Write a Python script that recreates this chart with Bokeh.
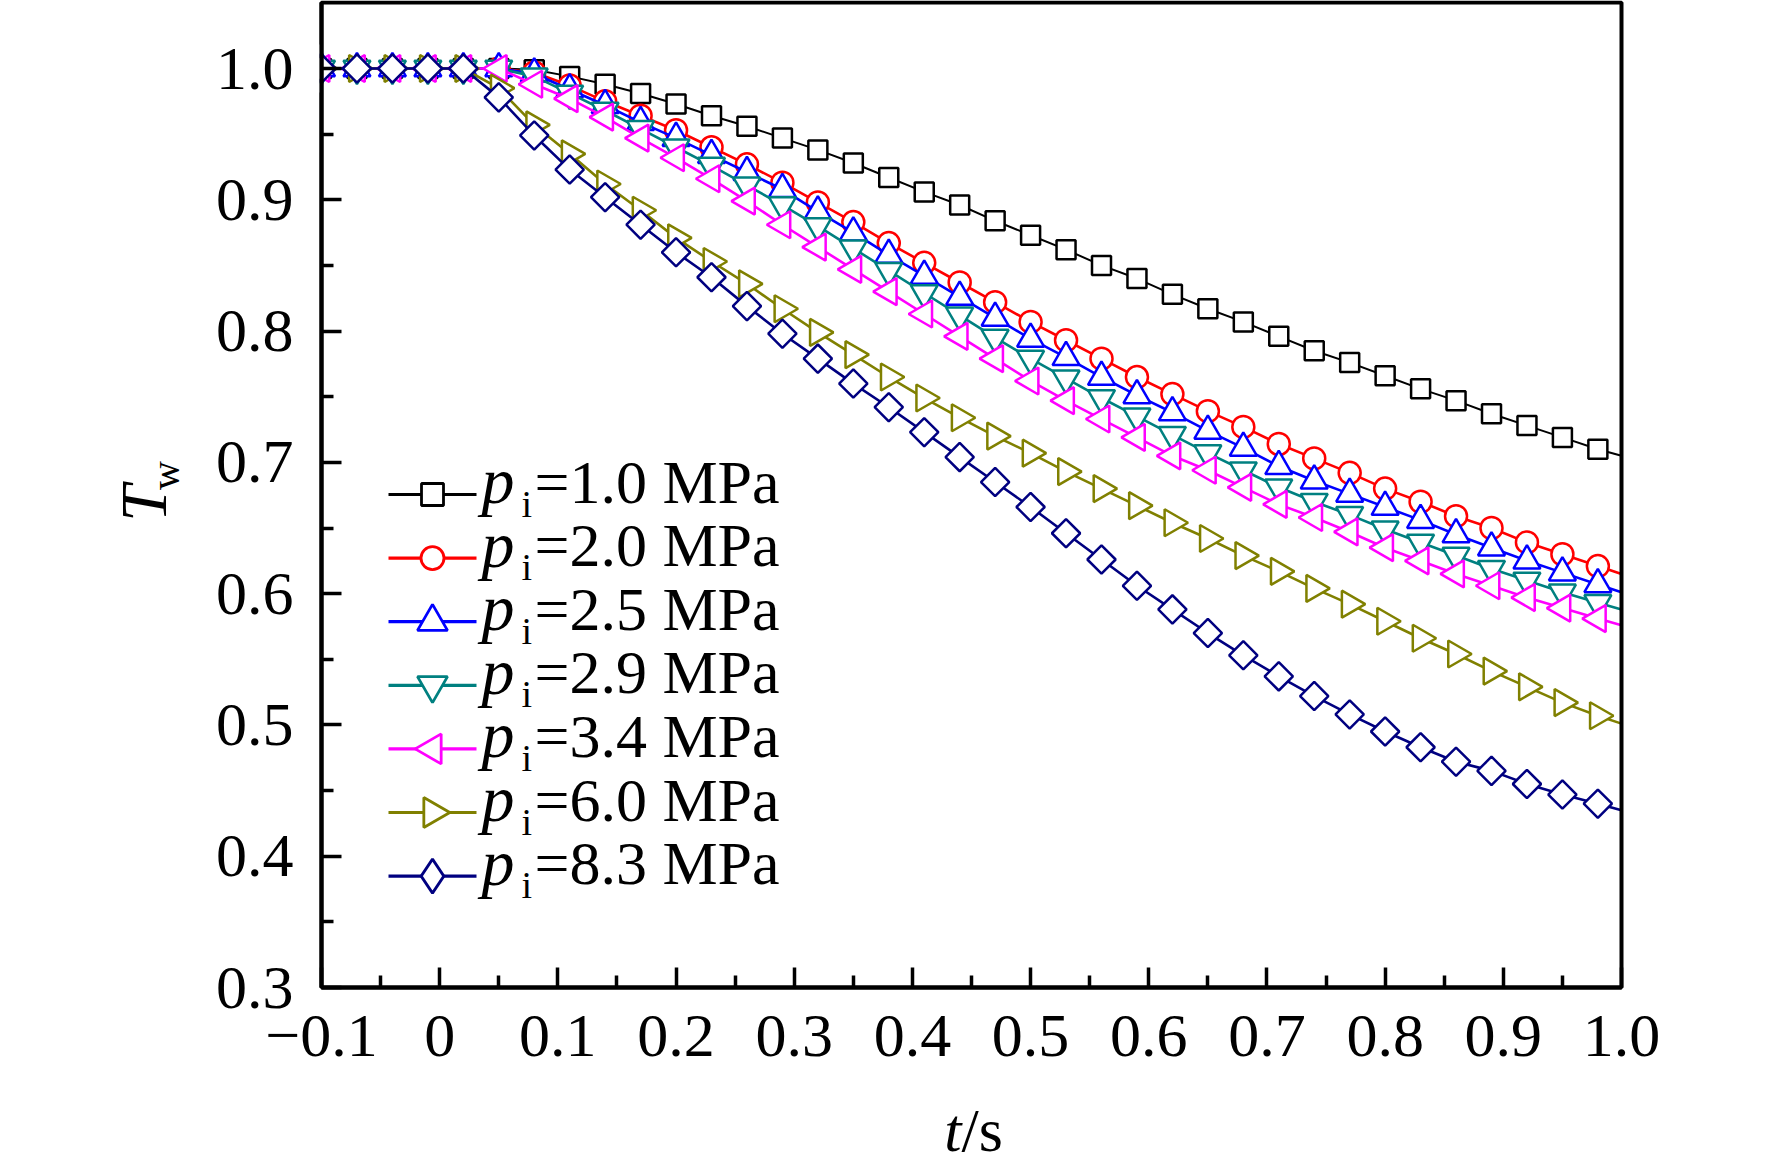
import math
from bokeh.plotting import figure
from bokeh.models import (Range1d, FixedTicker, Label, LinearAxis, BoxAnnotation)
from bokeh.embed import file_html
from bokeh.resources import INLINE

# ---------------- data ----------------
t = [-0.10, -0.07, -0.04, -0.01, 0.02, 0.05, 0.08, 0.11, 0.14, 0.17, 0.20, 0.23,
     0.26, 0.29, 0.32, 0.35, 0.38, 0.41, 0.44, 0.47, 0.50, 0.53, 0.56, 0.59,
     0.62, 0.65, 0.68, 0.71, 0.74, 0.77, 0.80, 0.83, 0.86, 0.89, 0.92, 0.95,
     0.98, 1.00]

tw_10 = [1.000, 1.000, 1.000, 1.000, 1.000,
         1.000, 0.999, 0.994, 0.988, 0.981, 0.973, 0.964, 0.956, 0.947, 0.938,
         0.928, 0.917, 0.906, 0.896, 0.884, 0.873, 0.862, 0.850, 0.840, 0.828,
         0.817, 0.807, 0.796, 0.785, 0.776, 0.766, 0.756, 0.747, 0.737, 0.728,
         0.719, 0.710, 0.705]
tw_20 = [1.000, 1.000, 1.000, 1.000, 1.000,
         1.000, 0.997, 0.987, 0.975, 0.964, 0.953, 0.940, 0.927, 0.913, 0.898,
         0.883, 0.867, 0.852, 0.837, 0.822, 0.807, 0.793, 0.779, 0.765, 0.752,
         0.739, 0.727, 0.714, 0.703, 0.692, 0.680, 0.670, 0.659, 0.650, 0.639,
         0.630, 0.621, 0.615]
tw_25 = [1.000, 1.000, 1.000, 1.000, 1.000,
         1.000, 0.996, 0.984, 0.972, 0.959, 0.947, 0.934, 0.921, 0.908, 0.891,
         0.875, 0.858, 0.842, 0.826, 0.810, 0.794, 0.780, 0.765, 0.751, 0.738,
         0.724, 0.711, 0.697, 0.686, 0.676, 0.666, 0.656, 0.645, 0.635, 0.625,
         0.616, 0.607, 0.601]
tw_29 = [1.000, 1.000, 1.000, 1.000, 1.000,
         1.000, 0.994, 0.981, 0.968, 0.954, 0.940, 0.926, 0.911, 0.896, 0.880,
         0.863, 0.846, 0.829, 0.812, 0.795, 0.779, 0.764, 0.749, 0.735, 0.721,
         0.707, 0.694, 0.681, 0.670, 0.660, 0.649, 0.639, 0.629, 0.619, 0.610,
         0.601, 0.593, 0.588]
tw_34 = [1.000, 1.000, 1.000, 1.000, 1.000,
         1.000, 0.988, 0.977, 0.963, 0.947, 0.932, 0.916, 0.899, 0.881, 0.864,
         0.847, 0.830, 0.813, 0.796, 0.779, 0.762, 0.747, 0.733, 0.719, 0.705,
         0.694, 0.681, 0.668, 0.658, 0.647, 0.635, 0.625, 0.615, 0.606, 0.597,
         0.589, 0.581, 0.576]
tw_60 = [1.000, 1.000, 1.000, 1.000, 1.000,
         0.985, 0.957, 0.935, 0.912, 0.892, 0.871, 0.853, 0.836, 0.817, 0.799,
         0.782, 0.765, 0.749, 0.734, 0.720, 0.707, 0.693, 0.680, 0.667, 0.654,
         0.642, 0.629, 0.617, 0.604, 0.592, 0.579, 0.566, 0.554, 0.541, 0.529,
         0.517, 0.507, 0.501]
tw_83 = [1.000, 1.000, 1.000, 1.000, 1.000,
         0.978, 0.949, 0.923, 0.902, 0.881, 0.860, 0.841, 0.819, 0.798, 0.779,
         0.760, 0.742, 0.723, 0.704, 0.685, 0.666, 0.646, 0.626, 0.606, 0.588,
         0.570, 0.553, 0.537, 0.522, 0.508, 0.495, 0.483, 0.472, 0.465, 0.455,
         0.447, 0.440, 0.435]

pressures = ["1.0", "2.0", "2.5", "2.9", "3.4", "6.0", "8.3"]

x_ticks = [-0.1, 0.0, 0.1, 0.2, 0.3, 0.4, 0.5, 0.6, 0.7, 0.8, 0.9, 1.0]
x_tick_labels = ["\u22120.1", "0", "0.1", "0.2", "0.3", "0.4", "0.5", "0.6",
                 "0.7", "0.8", "0.9", "1.0"]
x_minor = [-0.05, 0.05, 0.15, 0.25, 0.35, 0.45, 0.55, 0.65, 0.75, 0.85, 0.95]
y_ticks = [0.3, 0.4, 0.5, 0.6, 0.7, 0.8, 0.9, 1.0]
y_tick_labels = ["0.3", "0.4", "0.5", "0.6", "0.7", "0.8", "0.9", "1.0"]
y_minor = [0.35, 0.45, 0.55, 0.65, 0.75, 0.85, 0.95]

series_values = [tw_10, tw_20, tw_25, tw_29, tw_34, tw_60, tw_83]

# ---------------- styles ----------------
colors = ["#000000", "#FF0000", "#0000FF", "#008080", "#FF00FF", "#808000", "#000080"]
markers = ["square", "circle", "triangle", "inverted_triangle", "triangle", "triangle", "square"]
angles = [0, 0, 0, 0, math.pi / 2, -math.pi / 2, math.pi / 4]
msizes = [19, 22, 27, 27, 27, 27, 20]
lwidths = [2.0, 2.6, 2.6, 2.6, 2.6, 2.6, 2.6]
# legend key markers
lg_markers = ["square", "circle", "triangle", "inverted_triangle", "triangle", "triangle", "diamond"]
lg_sizes = [22, 23, 30, 30, 30, 30, 34]

SERIF = "Liberation Serif"

# ---------------- layout (canvas pixels) ----------------
W, H = 1766, 1166           # figure size
BOX_L, BOX_R = 321, 1621    # x = -0.1 / 1.0
BOX_B, Y1_PX = 987, 68      # y = 0.3 / 1.0
BOX_T = 2                   # top edge of the frame box
X0, X1, YB, YONE = -0.1, 1.0, 0.3, 1.0
kx = (BOX_R - BOX_L) / (X1 - X0)
ky = (BOX_B - Y1_PX) / (YONE - YB)


def X(px):
    return X0 + (px - BOX_L) / kx


def Y(py):
    return YB + (BOX_B - py) / ky


y_top = Y(BOX_T)

p = figure(width=W, height=H,
           x_range=Range1d(X(0), X(W)), y_range=Range1d(Y(H), Y(0)),
           x_axis_type=None, y_axis_type=None,
           output_backend="svg", toolbar_location=None, min_border=0)
p.outline_line_color = None
p.background_fill_color = "white"
p.border_fill_color = "white"

xaxis = LinearAxis(fixed_location=YB, bounds=(X0, X1),
                   ticker=FixedTicker(ticks=x_ticks, minor_ticks=x_minor),
                   major_label_overrides={k: v for k, v in zip(x_ticks, x_tick_labels)})
yaxis = LinearAxis(fixed_location=X0, bounds=(YB, y_top),
                   ticker=FixedTicker(ticks=y_ticks, minor_ticks=y_minor),
                   major_label_overrides={k: v for k, v in zip(y_ticks, y_tick_labels)})
for ax in (xaxis, yaxis):
    ax.axis_line_width = 4
    ax.axis_line_color = "black"
    ax.major_tick_line_width = 3.5
    ax.minor_tick_line_width = 3.5
    ax.major_tick_line_color = "black"
    ax.minor_tick_line_color = "black"
    ax.major_tick_in = 20
    ax.major_tick_out = 0
    ax.minor_tick_in = 12
    ax.minor_tick_out = 0
    ax.major_label_text_font = SERIF
    ax.major_label_text_font_size = "62px"
    ax.major_label_text_color = "black"
xaxis.major_label_standoff = 28
yaxis.major_label_standoff = 28
p.add_layout(xaxis, "below")
p.add_layout(yaxis, "left")

# ---------------- data series ----------------
for vals, c, m, a, s, lw in zip(series_values, colors, markers, angles, msizes, lwidths):
    p.line(t, vals, line_color=c, line_width=lw)
    p.scatter(t[:-1], vals[:-1], marker=m, size=s, angle=a,
              line_color=c, line_width=2.5, fill_color="white")

# markers sitting on the left frame edge are cut by the frame in the original
p.add_layout(BoxAnnotation(left=X(297), right=X(319), bottom=Y(92), top=Y(44),
                           fill_color="white", fill_alpha=1.0, line_alpha=0.0))
# frame box
p.add_layout(BoxAnnotation(left=X0, right=X1, bottom=YB, top=y_top,
                           fill_color=None, line_color="black", line_alpha=1.0,
                           line_width=4))

# ---------------- legend (keys + rich labels) ----------------
LG_KEY_L, LG_KEY_R, LG_KEY_C = 388, 476, 432
LG_ANCHOR0, LG_ROW_H = 481, 63.6     # label anchor of the first row, row pitch
LG_FS, LG_P_FS, LG_SUB_FS = 62, 66, 38
for k, (c, m, a, s, pr) in enumerate(zip(colors, lg_markers, angles, lg_sizes, pressures)):
    mid = LG_ANCHOR0 + LG_ROW_H * k
    key_y = mid + 13
    ang = a if m == "triangle" else 0
    p.line([X(LG_KEY_L), X(LG_KEY_R)], [Y(key_y), Y(key_y)], line_color=c, line_width=3.2)
    p.scatter([X(LG_KEY_C)], [Y(key_y)], marker=m, size=s, angle=ang,
              line_color=c, line_width=2.8, fill_color="white")
    p.add_layout(Label(x=X(481), y=Y(mid - 1), text="p", text_font=SERIF,
                       text_font_style="italic", text_font_size=f"{LG_P_FS}px",
                       text_baseline="middle", text_align="left", text_color="black"))
    p.add_layout(Label(x=X(521), y=Y(mid + 22), text="i", text_font=SERIF,
                       text_font_size=f"{LG_SUB_FS}px", text_baseline="middle",
                       text_align="left", text_color="black"))
    p.add_layout(Label(x=X(534), y=Y(mid), text="=" + pr + " MPa", text_font=SERIF,
                       text_font_size=f"{LG_FS}px", text_baseline="middle",
                       text_align="left", text_color="black"))

# ---------------- axis titles ----------------
p.add_layout(Label(x=X(143), y=Y(503), text="T", text_font=SERIF,
                   text_font_style="italic", text_font_size="66px",
                   angle=math.pi / 2, text_align="center", text_baseline="middle",
                   text_color="black"))
p.add_layout(Label(x=X(165), y=Y(475), text="w", text_font=SERIF,
                   text_font_size="40px", angle=math.pi / 2,
                   text_align="center", text_baseline="middle", text_color="black"))
p.add_layout(Label(x=X(961), y=Y(1129), text="t", text_font=SERIF,
                   text_font_style="italic", text_font_size="62px",
                   text_align="right", text_baseline="middle", text_color="black"))
p.add_layout(Label(x=X(961), y=Y(1129), text="/s", text_font=SERIF,
                   text_font_size="62px", text_align="left",
                   text_baseline="middle", text_color="black"))

open("out.html", "w").write(file_html(p, INLINE))
